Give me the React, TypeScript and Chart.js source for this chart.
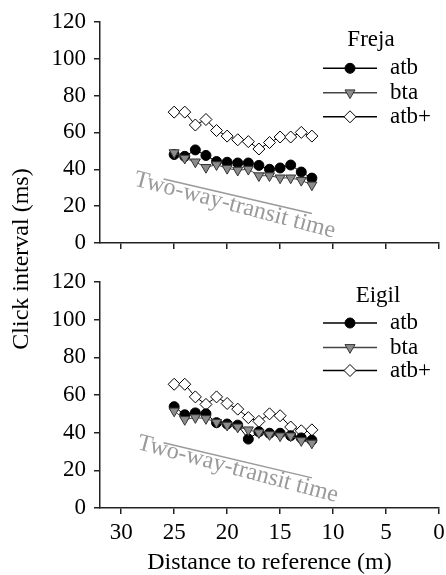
import React, { useEffect, useRef } from 'react';
import { Chart, registerables } from 'chart.js';

Chart.register(...registerables);

// ---------- data ----------
const DISTANCES = [25, 24, 23, 22, 21, 20, 19, 18, 17, 16, 15, 14, 13, 12];

const FREJA_ATB = [48, 47, 50.5, 47.5, 44.2, 43.8, 43.4, 43.4, 42.1, 40, 40.7, 42.3, 38.5, 35.2];
const FREJA_BTA = [49, 46, 44, 41, 42.5, 40.5, 39.5, 40, 36.5, 36.5, 35.3, 35.3, 34, 31.5];
const FREJA_ATB_PLUS = [71, 71, 64, 67, 61, 58, 56, 55, 51, 54.5, 57.5, 57.5, 60, 58];

const EIGIL_ATB = [53.8, 49.5, 50.5, 50, 45.3, 44.6, 44, 36.6, 40.5, 39.7, 39.7, 38.4, 37.2, 36];
const EIGIL_BTA = [51.5, 47, 48, 47.5, 45.5, 44, 43, 41.5, 40, 39, 38.3, 38.3, 35.8, 34.5];
const EIGIL_ATB_PLUS = [65.7, 65.7, 59, 55, 59, 55.5, 52.5, 48, 46, 50, 49, 43, 41, 41.5];

const TRANSIT_X = [26, 12];
const TRANSIT_Y = [34.7, 16];

const SERIES_NAMES = ['atb', 'bta', 'atb+'];
const PANEL_NAMES = ['Freja', 'Eigil'];
const TRANSIT_LABEL = 'Two-way-transit time';
const X_TITLE = 'Distance to reference (m)';
const Y_TITLE = 'Click interval (ms)';
const X_TICKS = [0, 5, 10, 15, 20, 25, 30];
const Y_TICKS = [0, 20, 40, 60, 80, 100, 120];

// ---------- styles ----------
const FONT = "'Liberation Serif', 'Times New Roman', serif";
const AXIS_COLOR = '#222';
const TRI_FILL = '#8c8c8c';
const TRI_STROKE = '#333';
const TRANSIT_COLOR = '#9a9a9a';

type MarkerKind = 'circle' | 'triangle' | 'diamond';

function drawMarker(ctx: CanvasRenderingContext2D, kind: MarkerKind, x: number, y: number) {
  ctx.save();
  ctx.lineWidth = 1;
  ctx.beginPath();
  if (kind === 'circle') {
    ctx.arc(x, y, 5, 0, Math.PI * 2);
    ctx.fillStyle = '#000';
    ctx.strokeStyle = '#000';
  } else if (kind === 'triangle') {
    const r = 5.8;
    ctx.moveTo(x, y + r);
    ctx.lineTo(x + r * Math.sin(Math.PI / 3), y - r / 2);
    ctx.lineTo(x - r * Math.sin(Math.PI / 3), y - r / 2);
    ctx.closePath();
    ctx.fillStyle = TRI_FILL;
    ctx.strokeStyle = TRI_STROKE;
  } else {
    const r = 6;
    ctx.moveTo(x, y - r);
    ctx.lineTo(x + r, y);
    ctx.lineTo(x, y + r);
    ctx.lineTo(x - r, y);
    ctx.closePath();
    ctx.fillStyle = '#fff';
    ctx.strokeStyle = '#000';
  }
  ctx.fill();
  ctx.stroke();
  ctx.restore();
}

interface PanelSpec {
  name: string;
  atb: number[];
  bta: number[];
  atbPlus: number[];
  bottomPanel: boolean;
  legendTitleDX: number;
  legendTitleDY: number;
  legendRowsDY: number[];
  transitOffset: [number, number];
}

function makeConfig(spec: PanelSpec): any {
  const pts = (vals: number[]) => DISTANCES.map((d, i) => ({ x: d, y: vals[i] }));
  const kinds: MarkerKind[] = ['circle', 'triangle', 'diamond'];
  const lineColors = ['#000', '#444', '#000'];

  const legendPlugin = {
    id: 'panelLegend',
    afterDraw(chart: any) {
      const ctx: CanvasRenderingContext2D = chart.ctx;
      const area = chart.chartArea;
      ctx.save();
      ctx.font = `23px ${FONT}`;
      ctx.fillStyle = '#000';
      ctx.textBaseline = 'middle';
      ctx.textAlign = 'center';
      ctx.fillText(spec.name, area.right + spec.legendTitleDX, area.top + spec.legendTitleDY);
      const x1 = area.right - 116;
      const x2 = area.right - 62;
      const xm = (x1 + x2) / 2;
      SERIES_NAMES.forEach((label, i) => {
        const y = area.top + spec.legendRowsDY[i];
        ctx.beginPath();
        ctx.moveTo(x1, y);
        ctx.lineTo(x2, y);
        ctx.strokeStyle = lineColors[i];
        ctx.lineWidth = 1.5;
        ctx.stroke();
        drawMarker(ctx, kinds[i], xm, y);
        ctx.fillStyle = '#000';
        ctx.textAlign = 'left';
        ctx.fillText(label, area.right - 49, y);
      });
      ctx.restore();
    },
  };

  const transitPlugin = {
    id: 'transitLabel',
    afterDatasetsDraw(chart: any) {
      const ctx: CanvasRenderingContext2D = chart.ctx;
      const xs = chart.scales.x;
      const ys = chart.scales.y;
      const x1 = xs.getPixelForValue(TRANSIT_X[0]);
      const y1 = ys.getPixelForValue(TRANSIT_Y[0]);
      const x2 = xs.getPixelForValue(TRANSIT_X[1]);
      const y2 = ys.getPixelForValue(TRANSIT_Y[1]);
      const ang = Math.atan2(y2 - y1, x2 - x1) + (1.6 * Math.PI) / 180;
      const cx = (x1 + x2) / 2 + spec.transitOffset[0];
      const cy = (y1 + y2) / 2 + spec.transitOffset[1];
      ctx.save();
      ctx.translate(cx, cy);
      ctx.rotate(ang);
      ctx.font = `24px ${FONT}`;
      ctx.fillStyle = TRANSIT_COLOR;
      ctx.textAlign = 'center';
      ctx.textBaseline = 'middle';
      ctx.fillText(TRANSIT_LABEL, 0, 0);
      ctx.restore();
    },
  };

  const plugins: any[] = [legendPlugin, transitPlugin];

  if (spec.bottomPanel) {
    plugins.push({
      id: 'sharedYTitle',
      afterDraw(chart: any) {
        const ctx: CanvasRenderingContext2D = chart.ctx;
        ctx.save();
        ctx.translate(22, 259);
        ctx.rotate(-Math.PI / 2);
        ctx.font = `24px ${FONT}`;
        ctx.fillStyle = '#000';
        ctx.textAlign = 'center';
        ctx.textBaseline = 'middle';
        ctx.fillText(Y_TITLE, 0, 0);
        ctx.restore();
      },
    });
  }

  return {
    type: 'line',
    data: {
      datasets: [
        {
          label: SERIES_NAMES[1],
          data: pts(spec.bta),
          borderColor: '#444',
          borderWidth: 1,
          pointStyle: 'triangle',
          rotation: 180,
          pointRadius: 5.8,
          pointBackgroundColor: TRI_FILL,
          pointBorderColor: TRI_STROKE,
          pointBorderWidth: 1,
          order: 1,
        },
        {
          label: SERIES_NAMES[0],
          data: pts(spec.atb),
          borderColor: '#000',
          borderWidth: 1,
          pointStyle: 'circle',
          pointRadius: 5,
          pointBackgroundColor: '#000',
          pointBorderColor: '#000',
          pointBorderWidth: 1,
          order: 2,
        },
        {
          label: SERIES_NAMES[2],
          data: pts(spec.atbPlus),
          borderColor: '#000',
          borderWidth: 1,
          pointStyle: 'rectRot',
          pointRadius: 6,
          pointBackgroundColor: '#fff',
          pointBorderColor: '#000',
          pointBorderWidth: 1,
          order: 3,
        },
        {
          label: TRANSIT_LABEL,
          data: TRANSIT_X.map((x, i) => ({ x, y: TRANSIT_Y[i] })),
          borderColor: TRANSIT_COLOR,
          borderWidth: 1.5,
          pointRadius: 0,
          order: 4,
        },
      ],
    },
    options: {
      responsive: false,
      animation: false,
      devicePixelRatio: 1,
      events: [],
      layout: {
        padding: spec.bottomPanel
          ? { left: 0, right: 5, top: 282, bottom: 0 }
          : { left: 0, right: 5, top: 16, bottom: 322 },
      },
      plugins: {
        legend: { display: false },
        tooltip: { enabled: false },
        title: { display: false },
      },
      scales: {
        x: {
          type: 'linear',
          reverse: true,
          min: 0,
          max: 32,
          afterBuildTicks: (s: any) => {
            s.ticks = X_TICKS.map((v) => ({ value: v }));
          },
          afterFit: (s: any) => {
            s.height = spec.bottomPanel ? 67 : 10;
            s.paddingLeft = 0;
            s.paddingRight = 0;
          },
          border: { display: true, color: AXIS_COLOR, width: 1.5 },
          grid: {
            display: true,
            drawOnChartArea: false,
            drawTicks: true,
            tickLength: 6,
            color: AXIS_COLOR,
            lineWidth: 1.5,
          },
          ticks: {
            display: spec.bottomPanel,
            autoSkip: false,
            maxRotation: 0,
            padding: 5,
            color: '#000',
            font: { family: FONT, size: 23 },
          },
          title: {
            display: spec.bottomPanel,
            text: X_TITLE,
            color: '#000',
            padding: 0,
            font: { family: FONT, size: 24, lineHeight: 1 },
          },
        },
        y: {
          type: 'linear',
          min: 0,
          max: 120,
          afterBuildTicks: (s: any) => {
            s.ticks = Y_TICKS.map((v) => ({ value: v }));
          },
          afterFit: (s: any) => {
            s.width = 100;
          },
          border: { display: true, color: AXIS_COLOR, width: 1.5 },
          grid: {
            display: true,
            drawOnChartArea: false,
            drawTicks: true,
            tickLength: 6,
            color: AXIS_COLOR,
            lineWidth: 1.5,
          },
          ticks: {
            padding: 8,
            color: '#000',
            font: { family: FONT, size: 23 },
          },
        },
      },
    },
    plugins,
  };
}

const PANELS: PanelSpec[] = [
  {
    name: PANEL_NAMES[0],
    atb: FREJA_ATB,
    bta: FREJA_BTA,
    atbPlus: FREJA_ATB_PLUS,
    bottomPanel: false,
    legendTitleDX: -68,
    legendTitleDY: 18,
    legendRowsDY: [46.5, 71, 95],
    transitOffset: [-3, 9],
  },
  {
    name: PANEL_NAMES[1],
    atb: EIGIL_ATB,
    bta: EIGIL_BTA,
    atbPlus: EIGIL_ATB_PLUS,
    bottomPanel: true,
    legendTitleDX: -61,
    legendTitleDY: 14,
    legendRowsDY: [41, 65.5, 88.5],
    transitOffset: [0, 9],
  },
];

export default function App() {
  const topRef = useRef<HTMLCanvasElement | null>(null);
  const bottomRef = useRef<HTMLCanvasElement | null>(null);

  useEffect(() => {
    const charts: Chart[] = [];
    if (bottomRef.current) charts.push(new Chart(bottomRef.current, makeConfig(PANELS[1])));
    if (topRef.current) charts.push(new Chart(topRef.current, makeConfig(PANELS[0])));
    return () => charts.forEach((c) => c.destroy());
  }, []);

  const canvasStyle: React.CSSProperties = { position: 'absolute', left: 0, top: 0 };
  return (
    <div style={{ position: 'absolute', left: 0, top: 0, width: 446, height: 575, background: '#fff' }}>
      <canvas ref={bottomRef} width={446} height={575} style={canvasStyle} />
      <canvas ref={topRef} width={446} height={575} style={canvasStyle} />
    </div>
  );
}
